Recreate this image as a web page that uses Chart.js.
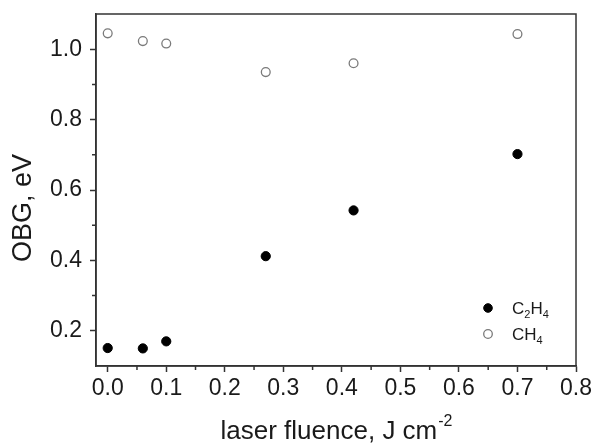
<!DOCTYPE html>
<html>
<head>
<meta charset="utf-8">
<script src="https://cdn.jsdelivr.net/npm/chart.js@4.4.1/dist/chart.umd.min.js"></script>
<style>
  html, body { margin: 0; padding: 0; background: #fff; }
  #wrap { width: 595px; height: 446px; }
</style>
</head>
<body>
<div id="wrap"><canvas id="obgChart" width="595" height="446"></canvas></div>
<script>
// values
const fluence = [0, 0.06, 0.1, 0.27, 0.42, 0.7];
const obgC2H4 = [0.151, 0.150, 0.170, 0.412, 0.542, 0.702];
const obgCH4 = [1.045, 1.023, 1.016, 0.935, 0.960, 1.043];

const xTicks = [0, 0.1, 0.2, 0.3, 0.4, 0.5, 0.6, 0.7, 0.8];
const xMinorTicks = [0.05, 0.15, 0.25, 0.35, 0.45, 0.55, 0.65, 0.75];
const yTicks = [0.2, 0.4, 0.6, 0.8, 1.0];
const yMinorTicks = [0.3, 0.5, 0.7, 0.9];

const axisColor = '#333';
const textColor = '#1a1a1a';
const fontFamily = '"Liberation Sans", Arial, sans-serif';

function toPoints(xs, ys) {
    return xs.map((x, i) => ({ x: x, y: ys[i] }));
}

// box round the plot + minor ticks
const framePlugin = {
    id: 'frame',
    afterDraw(chart) {
        const ctx = chart.ctx;
        const a = chart.chartArea;
        const xs = chart.scales.x;
        const ys = chart.scales.y;
        ctx.save();
        ctx.strokeStyle = axisColor;
        ctx.lineWidth = 1.5;
        ctx.strokeRect(a.left, a.top, a.right - a.left, a.bottom - a.top);
        ctx.beginPath();
        xMinorTicks.forEach(v => {
            const px = xs.getPixelForValue(v);
            ctx.moveTo(px, a.bottom);
            ctx.lineTo(px, a.bottom + 4);
        });
        yMinorTicks.forEach(v => {
            const py = ys.getPixelForValue(v);
            ctx.moveTo(a.left, py);
            ctx.lineTo(a.left - 4, py);
        });
        ctx.stroke();
        ctx.restore();
    }
};

// axis titles (x one has a superscript, y one sits a little below centre)
const titlesPlugin = {
    id: 'axisTitles',
    afterDraw(chart) {
        const ctx = chart.ctx;
        const a = chart.chartArea;
        const main = 'laser fluence, J cm';
        const sup = '-2';
        ctx.save();
        ctx.fillStyle = textColor;
        ctx.textBaseline = 'alphabetic';
        ctx.font = '26px ' + fontFamily;
        const w1 = ctx.measureText(main).width;
        ctx.font = '16px ' + fontFamily;
        const w2 = ctx.measureText(sup).width;
        const x0 = (a.left + a.right) / 2 - (w1 + w2) / 2;
        const base = 439;
        ctx.font = '26px ' + fontFamily;
        ctx.fillText(main, x0, base);
        ctx.font = '16px ' + fontFamily;
        ctx.fillText(sup, x0 + w1 + 1, base - 13);

        ctx.translate(24, 208);
        ctx.rotate(-Math.PI / 2);
        ctx.font = '27px ' + fontFamily;
        ctx.textAlign = 'center';
        ctx.textBaseline = 'middle';
        ctx.fillText('OBG, eV', 0, 0);
        ctx.restore();
    }
};

// legend with subscripts
const legendPlugin = {
    id: 'subLegend',
    afterDraw(chart) {
        const ctx = chart.ctx;
        const items = [
            { ds: chart.data.datasets[0], parts: [['C', 0], ['2', 1], ['H', 0], ['4', 1]] },
            { ds: chart.data.datasets[1], parts: [['CH', 0], ['4', 1]] }
        ];
        const mx = 488, tx = 512;
        let y = 308;
        ctx.save();
        items.forEach(it => {
            ctx.beginPath();
            ctx.arc(mx, y, 4.3, 0, Math.PI * 2);
            if (it.ds.pointBackgroundColor !== 'rgba(0,0,0,0)') {
                ctx.fillStyle = it.ds.pointBackgroundColor;
                ctx.fill();
            }
            ctx.lineWidth = it.ds.pointBorderWidth;
            ctx.strokeStyle = it.ds.pointBorderColor;
            ctx.stroke();
            let x = tx;
            ctx.fillStyle = textColor;
            ctx.textBaseline = 'alphabetic';
            it.parts.forEach(p => {
                ctx.font = (p[1] ? '11px ' : '17px ') + fontFamily;
                ctx.fillText(p[0], x, y + 6 + (p[1] ? 4 : 0));
                x += ctx.measureText(p[0]).width;
            });
            y += 26;
        });
        ctx.restore();
    }
};

new Chart(document.getElementById('obgChart'), {
    type: 'scatter',
    data: {
        datasets: [{
            label: 'C2H4',
            data: toPoints(fluence, obgC2H4),
            pointRadius: 4.6,
            pointBackgroundColor: '#000',
            pointBorderColor: '#000',
            pointBorderWidth: 1,
            showLine: false
        }, {
            label: 'CH4',
            data: toPoints(fluence, obgCH4),
            pointRadius: 4.4,
            pointBackgroundColor: 'rgba(0,0,0,0)',
            pointBorderColor: '#7a7a7a',
            pointBorderWidth: 1.3,
            showLine: false
        }]
    },
    options: {
        responsive: false,
        devicePixelRatio: 1,
        animation: false,
        layout: { padding: { top: 14, right: 19, left: 0, bottom: 0 } },
        plugins: {
            legend: { display: false },
            tooltip: { enabled: false }
        },
        scales: {
            x: {
                type: 'linear',
                min: -0.02,
                max: 0.8,
                afterBuildTicks: scale => { scale.ticks = xTicks.map(v => ({ value: v })); },
                afterFit: scale => {
                    scale.height = 80;
                    scale.paddingLeft = 0;
                    scale.paddingRight = 0;
                },
                border: { color: axisColor, width: 1.5 },
                grid: { drawOnChartArea: false, drawTicks: true, tickLength: 6, tickWidth: 1.5, tickColor: axisColor },
                ticks: {
                    color: textColor,
                    font: { family: fontFamily, size: 23 },
                    padding: 3,
                    maxRotation: 0,
                    autoSkip: false,
                    callback: v => v.toFixed(1)
                }
            },
            y: {
                min: 0.1,
                max: 1.1,
                afterBuildTicks: scale => { scale.ticks = yTicks.map(v => ({ value: v })); },
                afterFit: scale => {
                    scale.width = 96;
                    scale.paddingTop = 0;
                    scale.paddingBottom = 0;
                },
                border: { color: axisColor, width: 1.5 },
                grid: { drawOnChartArea: false, drawTicks: true, tickLength: 6, tickWidth: 1.5, tickColor: axisColor },
                ticks: {
                    color: textColor,
                    font: { family: fontFamily, size: 23 },
                    padding: 8,
                    autoSkip: false,
                    callback: v => v.toFixed(1)
                },
                title: { display: false }
            }
        }
    },
    plugins: [framePlugin, titlesPlugin, legendPlugin]
});
</script>
</body>
</html>
